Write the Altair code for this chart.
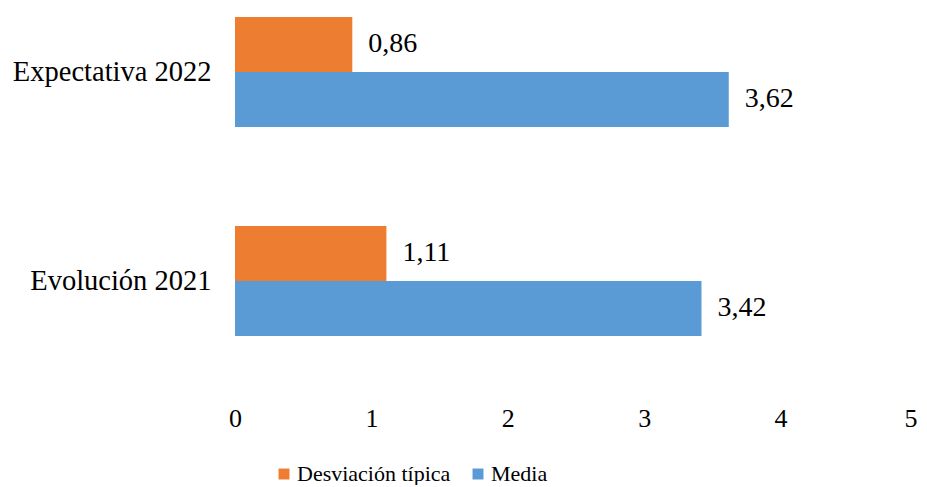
import altair as alt
import pandas as pd

categories = ["Expectativa 2022", "Evolución 2021"]
series = ["Desviación típica", "Media"]
desviacion = [0.86, 1.11]
media = [3.62, 3.42]
labels_desv = ["0,86", "1,11"]
labels_media = ["3,62", "3,42"]
x_ticks = [0, 1, 2, 3, 4, 5]
colors = ["#ED7D31", "#5B9BD5"]

rows = []
for i, c in enumerate(categories):
    rows.append({"cat": c, "serie": series[0], "valor": desviacion[i], "etiqueta": labels_desv[i]})
    rows.append({"cat": c, "serie": series[1], "valor": media[i], "etiqueta": labels_media[i]})
df = pd.DataFrame(rows)

FONT = "Liberation Serif"

y = alt.Y(
    "cat:N", sort=categories, title=None,
    scale=alt.Scale(paddingInner=0.4737, paddingOuter=0.1746, align=0.123),
    axis=alt.Axis(domain=False, ticks=False, grid=False, labelFontSize=28.5, labelFont=FONT,
                  labelColor="black", labelPadding=24, labelLimit=400),
)
yoff = alt.YOffset("serie:N", sort=series, scale=alt.Scale(paddingInner=0, paddingOuter=0))
x = alt.X(
    "valor:Q", title=None, scale=alt.Scale(domain=[0, 5], nice=False),
    axis=alt.Axis(values=x_ticks, format="d", domain=False, ticks=False, grid=False,
                  labelFlush=False,
                  labelAlign=alt.ExprRef("datum.value == 5 ? 'right' : 'center'"),
                  labelFontSize=26, labelFont=FONT, labelColor="black", labelPadding=5),
)
color = alt.Color(
    "serie:N", sort=series,
    scale=alt.Scale(domain=series, range=colors),
    legend=alt.Legend(title=None, orient="none", direction="horizontal", legendX=38, legendY=455,
                      symbolType="square", symbolSize=120, symbolStrokeWidth=0,
                      labelFontSize=22, labelFont=FONT, labelColor="black",
                      columnPadding=16, labelOffset=2, padding=0, labelLimit=400),
)

bars = alt.Chart(df).mark_bar().encode(y=y, yOffset=yoff, x=x, color=color)
text = alt.Chart(df).mark_text(align="left", baseline="middle", dx=16, fontSize=28,
                               font=FONT, color="black").encode(
    y=alt.Y("cat:N", sort=categories), yOffset=alt.YOffset("serie:N", sort=series),
    x=alt.X("valor:Q"), text="etiqueta:N")

chart = (bars + text).properties(
    width=682, height=392,
    padding={"left": 4, "top": 0, "right": 0, "bottom": 0},
).configure_view(stroke=None)
chart.save("out.html", embed_options={"renderer": "svg", "actions": False})
